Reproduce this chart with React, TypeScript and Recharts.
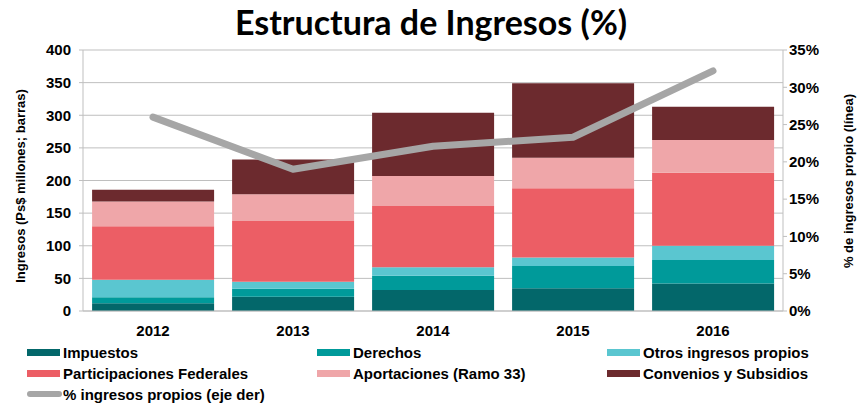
import React from "react";
import {
  ComposedChart,
  Bar,
  Line,
  XAxis,
  YAxis,
  CartesianGrid,
} from "recharts";

const years = ["2012", "2013", "2014", "2015", "2016"];
const impuestos = [12, 22, 32, 35, 42];
const derechos = [9, 12, 22, 34, 36];
const otros = [27, 11, 13, 13, 22];
const participaciones = [82, 93, 94, 106, 112];
const aportaciones = [38, 41, 46, 47, 50];
const convenios = [18, 53, 97, 114, 51];
const pctPropios = [26.0, 19.0, 22.1, 23.3, 32.2];

const leftTicks = [0, 50, 100, 150, 200, 250, 300, 350, 400];
const rightTicks = [0, 5, 10, 15, 20, 25, 30, 35];

const series = [
  { key: "impuestos", name: "Impuestos", color: "#03676A" },
  { key: "derechos", name: "Derechos", color: "#009A9A" },
  { key: "otros", name: "Otros ingresos propios", color: "#5AC6D0" },
  { key: "participaciones", name: "Participaciones Federales", color: "#EC5E65" },
  { key: "aportaciones", name: "Aportaciones (Ramo 33)", color: "#EFA6A9" },
  { key: "convenios", name: "Convenios y Subsidios", color: "#6C2A2E" },
];
const lineName = "% ingresos propios (eje der)";
const lineColor = "#A6A6A6";

const data = years.map((year, i) => ({
  year,
  impuestos: impuestos[i],
  derechos: derechos[i],
  otros: otros[i],
  participaciones: participaciones[i],
  aportaciones: aportaciones[i],
  convenios: convenios[i],
  pct: pctPropios[i],
}));

const FONT = "Arial, 'Liberation Sans', sans-serif";
const tickStyle = { fontFamily: FONT, fontSize: 15, fontWeight: 700, fill: "#000" };

function VerticalTitle({ x, y, text }: { x: number; y: number; text: string }) {
  return (
    <text
      x={x}
      y={y}
      transform={`rotate(-90 ${x} ${y})`}
      textAnchor="middle"
      dominantBaseline="central"
      style={{ fontFamily: FONT, fontSize: 13, fontWeight: 700, fill: "#000" }}
    >
      {text}
    </text>
  );
}

export default function App() {
  const legendItems = [
    ...series.map((s) => ({ name: s.name, color: s.color, line: false })),
    { name: lineName, color: lineColor, line: true },
  ];
  const colX = [27, 317, 607];
  const rowY = [352, 373, 394];

  return (
    <div style={{ position: "absolute", left: 0, top: 0, width: 862, height: 403, background: "#fff" }}>
      <div
        style={{
          position: "absolute",
          left: 0,
          top: 0,
          width: 862,
          textAlign: "center",
          fontFamily: "Lato, 'Open Sans', sans-serif",
          fontWeight: 700,
          fontSize: 34,
          lineHeight: "44px",
          color: "#000",
        }}
      >
        Estructura de Ingresos (%)
      </div>
      <ComposedChart
        width={862}
        height={403}
        data={data}
        margin={{ top: 50, right: 0, left: 0, bottom: 62 }}
        barCategoryGap="6.5%"
      >
        <CartesianGrid yAxisId="left" vertical={false} stroke="#BFBFBF" />
        <XAxis
          dataKey="year"
          height={30}
          axisLine={{ stroke: "#BFBFBF" }}
          tickLine={false}
          tickSize={6}
          tickMargin={8}
          tick={tickStyle}
        />
        <YAxis
          yAxisId="left"
          width={83}
          domain={[0, 400]}
          ticks={leftTicks}
          interval={0}
          axisLine={{ stroke: "#BFBFBF" }}
          tickLine={{ stroke: "#BFBFBF" }}
          tickSize={4}
          tickMargin={8}
          tick={tickStyle}
          label={{
            content: () => <VerticalTitle x={20} y={186} text="Ingresos (Ps$ millones; barras)" />,
          }}
        />
        <YAxis
          yAxisId="right"
          orientation="right"
          width={79}
          domain={[0, 35]}
          ticks={rightTicks}
          interval={0}
          tickFormatter={(v: number) => `${v}%`}
          axisLine={{ stroke: "#BFBFBF" }}
          tickLine={{ stroke: "#BFBFBF" }}
          tickSize={4}
          tickMargin={2}
          tick={{ ...tickStyle, textAnchor: "start" }}
          label={{
            content: () => <VerticalTitle x={848} y={181} text="% de ingresos propio (línea)" />,
          }}
        />
        {series.map((s) => (
          <Bar
            key={s.key}
            yAxisId="left"
            dataKey={s.key}
            name={s.name}
            stackId="a"
            fill={s.color}
            isAnimationActive={false}
          />
        ))}
        <Line
          yAxisId="right"
          dataKey="pct"
          name={lineName}
          stroke={lineColor}
          strokeWidth={7}
          strokeLinecap="round"
          strokeLinejoin="round"
          dot={false}
          activeDot={false}
          isAnimationActive={false}
        />
      </ComposedChart>
      {legendItems.map((item, i) => {
        const col = i % 3;
        const row = Math.floor(i / 3);
        return (
          <div
            key={item.name}
            style={{
              position: "absolute",
              left: colX[col],
              top: rowY[row] - 10,
              height: 20,
              display: "flex",
              alignItems: "center",
              fontFamily: FONT,
              fontSize: 15,
              fontWeight: 700,
              color: "#000",
              whiteSpace: "nowrap",
            }}
          >
            <span
              style={{
                display: "inline-block",
                width: item.line ? 35 : 33,
                height: item.line ? 6 : 7,
                borderRadius: item.line ? 3 : 0,
                background: item.color,
                marginRight: item.line ? 1 : 3,
              }}
            />
            {item.name}
          </div>
        );
      })}
    </div>
  );
}
